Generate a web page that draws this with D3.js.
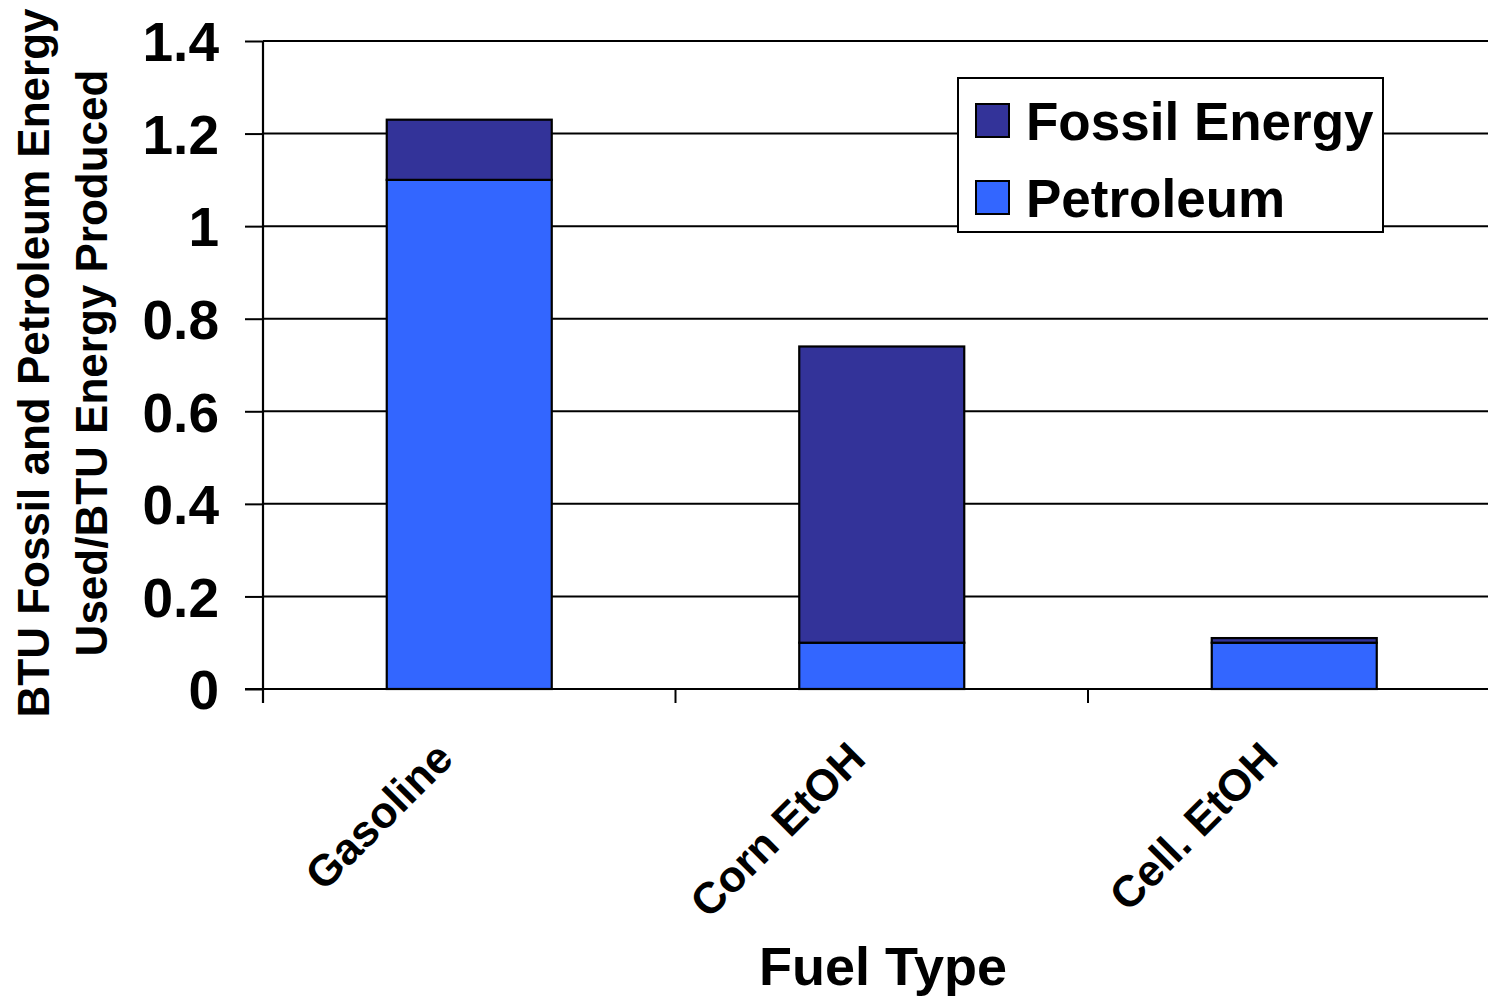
<!DOCTYPE html>
<html>
<head>
<meta charset="utf-8">
<script src="https://cdn.jsdelivr.net/npm/d3@7/dist/d3.min.js"></script>
<style>
  html, body { margin: 0; padding: 0; background: #fff; overflow: hidden; }
  svg { display: block; }
  text { font-family: "Liberation Sans", Arial, Helvetica, sans-serif; font-weight: bold; fill: #000; }
</style>
</head>
<body>
<svg id="chart" width="1488" height="997"></svg>
<script>
// ---- data ----
const categories = ["Gasoline", "Corn EtOH", "Cell. EtOH"];
const seriesNames = ["Petroleum", "Fossil Energy"];
const petroleum = [1.10, 0.10, 0.10];
const fossilEnergy = [1.23, 0.74, 0.11];   // total fossil energy (top of stack)
const yTicks = [0, 0.2, 0.4, 0.6, 0.8, 1, 1.2, 1.4];
const yTickLabels = ["0", "0.2", "0.4", "0.6", "0.8", "1", "1.2", "1.4"];
const yTitleLines = ["BTU Fossil and Petroleum Energy", "Used/BTU Energy Produced"];
const xTitle = "Fuel Type";
const legendItems = ["Fossil Energy", "Petroleum"];
const colors = { "Fossil Energy": "#333399", "Petroleum": "#3366FF" };

// ---- layout ----
const svg = d3.select("#chart");
const pL = 263, pT = 41, pB = 689, pR = 1500.5;

const x = d3.scaleBand().domain(categories).range([pL, pR])
  .paddingInner(0.6).paddingOuter(0.3);
const y = d3.scaleLinear().domain([0, 1.4]).range([pB, pT]);

// gridlines
svg.append("g").selectAll("line").data(yTicks.filter(d => d > 0)).join("line")
  .attr("x1", pL).attr("x2", pR)
  .attr("y1", d => y(d)).attr("y2", d => y(d))
  .attr("stroke", "#000").attr("stroke-width", 2);

// stacked data
const rows = categories.map((c, i) => ({
  cat: c,
  segs: [
    { name: "Petroleum", y0: 0, y1: petroleum[i] },
    { name: "Fossil Energy", y0: petroleum[i], y1: fossilEnergy[i] }
  ]
}));

const bars = svg.append("g");
rows.forEach(r => {
  bars.selectAll(null).data(r.segs).join("rect")
    .attr("x", x(r.cat))
    .attr("width", x.bandwidth())
    .attr("y", d => y(d.y1))
    .attr("height", d => y(d.y0) - y(d.y1))
    .attr("fill", d => colors[d.name])
    .attr("stroke", "#000").attr("stroke-width", 2.2);
});

// y axis
const yAxis = d3.axisLeft(y).tickValues(yTicks)
  .tickFormat((d, i) => yTickLabels[i]).tickSize(18).tickPadding(26);
const yg = svg.append("g").attr("transform", `translate(${pL},0)`).call(yAxis);
yg.select(".domain").remove();
yg.selectAll(".tick line").attr("stroke", "#000").attr("stroke-width", 2);
yg.selectAll(".tick text").attr("font-size", 55).attr("dy", "0.36em")
  .style("font-family", '"Liberation Sans", Arial, sans-serif').style("font-weight", "bold").attr("fill", "#000");
svg.append("line").attr("x1", pL).attr("x2", pL).attr("y1", pT).attr("y2", pB + 14)
  .attr("stroke", "#000").attr("stroke-width", 2.2);

// x axis baseline
svg.append("line").attr("x1", pL - 18).attr("x2", pR).attr("y1", pB).attr("y2", pB)
  .attr("stroke", "#000").attr("stroke-width", 2.2);
// category boundary ticks
const step = x.step();
const boundaries = categories.map(c => x(c) + x.bandwidth() / 2 + step / 2);
svg.append("g").selectAll("line").data(boundaries).join("line")
  .attr("x1", d => d).attr("x2", d => d).attr("y1", pB).attr("y2", pB + 14)
  .attr("stroke", "#000").attr("stroke-width", 2);

// x labels rotated
svg.append("g").selectAll("text").data(categories).join("text")
  .attr("transform", d => `translate(${x(d) + x.bandwidth() / 2 - 14},${pB + 72}) rotate(-45)`)
  .attr("text-anchor", "end")
  .attr("font-size", 44)
  .text(d => d);

// x title
svg.append("text").attr("x", 883).attr("y", 985).attr("text-anchor", "middle")
  .attr("font-size", 54).text(xTitle);

// y title
const yt = svg.append("text").attr("transform", `translate(0,${(pT + pB) / 2 - 2}) rotate(-90)`)
  .attr("text-anchor", "middle").attr("font-size", 44);
yTitleLines.forEach((t, i) => {
  yt.append("tspan").attr("x", 0).attr("y", 49 + i * 58).text(t);
});

// legend
const lg = svg.append("g");
lg.append("rect").attr("x", 958).attr("y", 78).attr("width", 425).attr("height", 154)
  .attr("fill", "#fff").attr("stroke", "#000").attr("stroke-width", 2);
legendItems.forEach((name, i) => {
  const cy = 121 + i * 77;
  lg.append("rect").attr("x", 976).attr("y", cy - 17).attr("width", 33).attr("height", 33)
    .attr("fill", colors[name]).attr("stroke", "#000").attr("stroke-width", 2);
  lg.append("text").attr("x", 1026).attr("y", cy + 19).attr("font-size", 53).text(name);
});
</script>
</body>
</html>
